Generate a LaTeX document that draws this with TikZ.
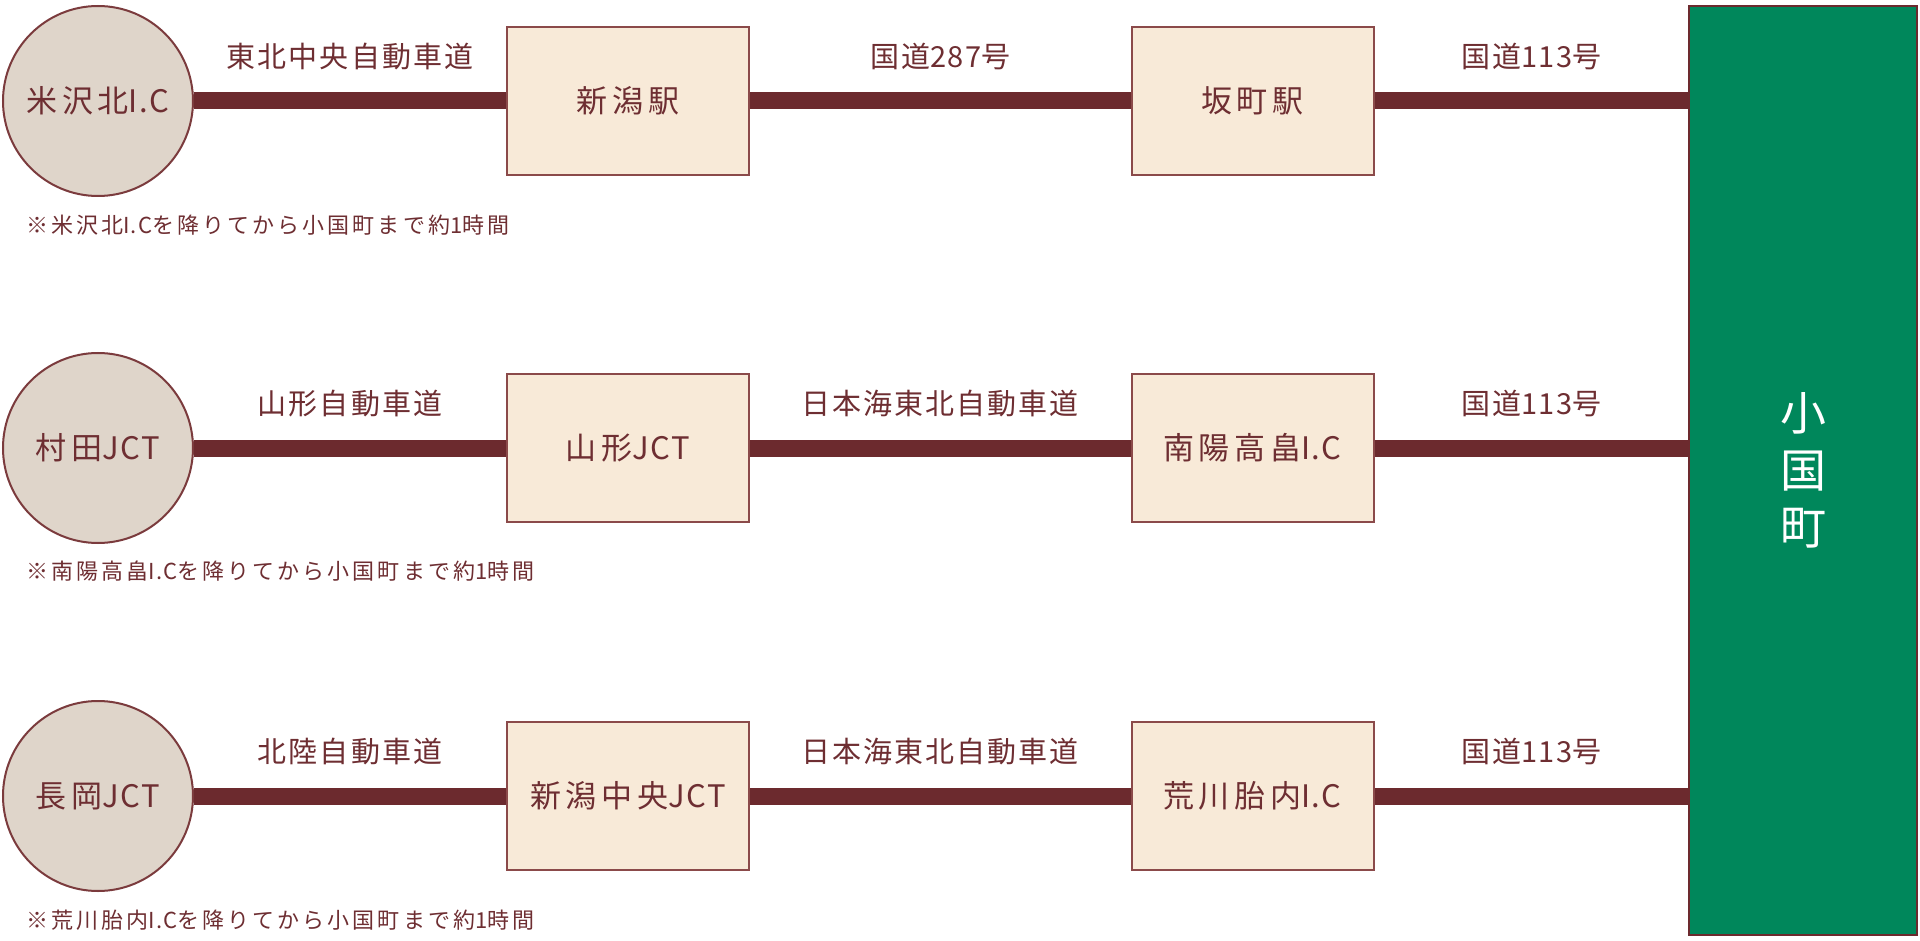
\documentclass[tikz,border=0pt]{standalone}
\usepackage{fontspec}
\setmainfont{Noto Sans CJK JP}
\newfontfamily\nodefont[LetterSpace=15]{Noto Sans CJK JP}
\newfontfamily\lblfont[LetterSpace=7]{Noto Sans CJK JP}
\newfontfamily\notefont[LetterSpace=14]{Noto Sans CJK JP}
\newfontfamily\plainlat[LetterSpace=5]{Noto Sans CJK JP}
\newcommand{\lat}[1]{{\plainlat #1}}
\definecolor{road}{HTML}{6C2A2E}
\definecolor{ink}{HTML}{6E2E32}
\definecolor{circfill}{HTML}{DFD5CA}
\definecolor{circline}{HTML}{7B3B3D}
\definecolor{boxfill}{HTML}{F8EAD8}
\definecolor{boxline}{HTML}{8B4A4A}
\definecolor{town}{HTML}{00875B}
\begin{document}
\begin{tikzpicture}[x=1pt,y=-1pt,
  startnode/.style={circle, minimum size=190pt, inner sep=0pt, fill=circfill, draw=circline, line width=2pt, text=ink, font=\nodefont\fontsize{31}{37}\selectfont},
  stopbox/.style={rectangle, minimum width=242pt, minimum height=148pt, inner sep=0pt, fill=boxfill, draw=boxline, line width=2pt, text=ink, font=\nodefont\fontsize{31}{37}\selectfont},
  roadline/.style={draw=road, line width=17pt},
  lbl/.style={midway, yshift=44pt, text=ink, font=\lblfont\fontsize{29}{34}\selectfont},
  note/.style={anchor=west, inner sep=0pt, text=ink, font=\notefont\fontsize{22}{26}\selectfont}]
\useasboundingbox (0,0) rectangle (1920,941);
% destination
\node[rectangle, minimum width=228pt, minimum height=929pt, inner sep=0pt, fill=town, draw=road, line width=1.5pt,
  text=white, align=center, font=\fontsize{46}{57}\selectfont] (town) at (1803,470.5) {小\\国\\町};
% row 1
\node[startnode] (c1) at (98,101) {米沢北\lat{I.C}};
\node[stopbox] (b11) at (628,101) {新潟駅};
\node[stopbox] (b12) at (1252.5,101) {坂町駅};
\node[note] (n1) at (26,225) {※米沢北\lat{I.C}を降りてから小国町まで約\lat{1}時間};
% row 2
\node[startnode] (c2) at (98,448) {村田\lat{JCT}};
\node[stopbox] (b21) at (628,448) {山形\lat{JCT}};
\node[stopbox] (b22) at (1252.5,448) {南陽高畠\lat{I.C}};
\node[note] (n2) at (26,571) {※南陽高畠\lat{I.C}を降りてから小国町まで約\lat{1}時間};
% row 3
\node[startnode] (c3) at (98,796) {長岡\lat{JCT}};
\node[stopbox] (b31) at (628,796) {新潟中央\lat{JCT}};
\node[stopbox] (b32) at (1252.5,796) {荒川胎内\lat{I.C}};
\node[note] (n3) at (26,920) {※荒川胎内\lat{I.C}を降りてから小国町まで約\lat{1}時間};
% roads
\path[roadline] (c1) -- node[lbl]{東北中央自動車道} (b11);
\path[roadline] (b11) -- node[lbl]{国道\lat{287}号} (b12);
\path[roadline] (b12.east) -- node[lbl]{国道\lat{113}号} (b12.east -| town.west);
\path[roadline] (c2) -- node[lbl]{山形自動車道} (b21);
\path[roadline] (b21) -- node[lbl]{日本海東北自動車道} (b22);
\path[roadline] (b22.east) -- node[lbl]{国道\lat{113}号} (b22.east -| town.west);
\path[roadline] (c3) -- node[lbl]{北陸自動車道} (b31);
\path[roadline] (b31) -- node[lbl]{日本海東北自動車道} (b32);
\path[roadline] (b32.east) -- node[lbl]{国道\lat{113}号} (b32.east -| town.west);
\end{tikzpicture}
\end{document}
